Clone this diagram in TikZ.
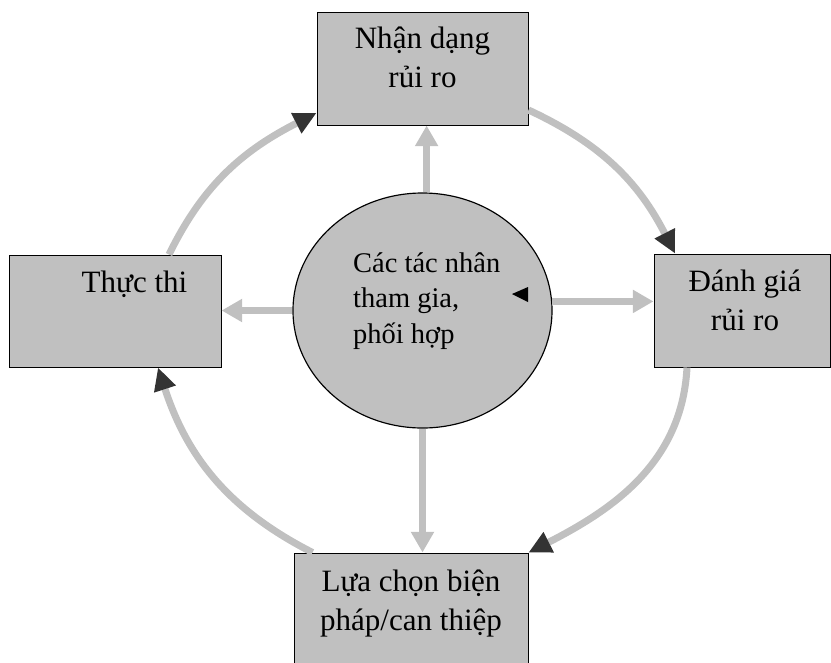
\documentclass[tikz,border=0pt]{standalone}
\usepackage{fontspec}
\setmainfont{Liberation Serif}
\usetikzlibrary{shapes.geometric,arrows.meta,calc,positioning}
\definecolor{boxgray}{HTML}{C0C0C0}
\definecolor{headgray}{HTML}{333333}
\tikzstyle{stage} = [rectangle, draw=black, line width=0.85pt, fill=boxgray]
\tikzstyle{hub} = [ellipse, draw=black, line width=1pt, fill=boxgray,
    minimum width=7.77cm, minimum height=7.05cm, inner sep=0pt]
\tikzstyle{stagetext} = [inner sep=0pt, align=center, font=\fontsize{26.5}{32.9}\selectfont]
\tikzstyle{hubtext} = [inner sep=0pt, align=left, font=\fontsize{24.3}{30.3}\selectfont]
\tikzstyle{spoke} = [draw=boxgray, line width=6pt, -{Triangle[width=0.66cm,length=0.62cm]}]
\tikzstyle{cycleline} = [draw=boxgray, line width=6pt,
    -{Triangle[width=0.64cm,length=0.68cm,color=headgray]}]

\begin{document}
\begin{tikzpicture}[x=0.03cm, y=0.03cm]
\useasboundingbox (0,0) rectangle (831,-662);
\clip (0,0) rectangle (831,-662);
%% Place boxes and hub
\node [stage, minimum width=6.33cm, minimum height=3.39cm] (nhandang) at (422.5,-68.5) {};
\node [stage, minimum width=5.28cm, minimum height=3.39cm] (danhgia) at (742,-310.5) {};
\node [stage, minimum width=6.33cm, minimum height=3.36cm] (thucthi) at (115.5,-311) {};
\node [stage, minimum width=6.99cm, minimum height=3.72cm] (luachon) at (411.5,-615) {};
\node [hub] (tacnhan) at (422.5,-310.5) {};

%% Texts (base = last line)
\node [stagetext, anchor=base] (nhandangtxt) at (422.5,-87) {Nhận dạng\\rủi ro};
\node [stagetext, anchor=base] (danhgiatxt) at (745,-330) {Đánh giá\\rủi ro};
\node [stagetext, anchor=base] (thucthitxt) at (134.5,-292) {Thực thi};
\node [stagetext, anchor=base] (luachontxt) at (411,-630) {Lựa chọn biện\\pháp/can thiệp};
\node [hubtext, anchor=base west] (tacnhantxt) at (353,-343) {Các tác nhân\\tham gia,\\phối hợp};

%% Stray tip inside the hub
\fill (512,-294) -- (528,-287) -- (528,-302) -- cycle;

%% Arrows from the hub
\draw [spoke] (tacnhan.88) -- (tacnhan.88 |- nhandang.south);
\draw [spoke] (tacnhan.4) -- (tacnhan.4 -| danhgia.west);
\draw [spoke] (tacnhan.south) -- (tacnhan.south |- luachon.north);
\draw [spoke] (tacnhan.west) -- (tacnhan.west -| thucthi.east);

%% Cycle round the boxes
\draw [cycleline] ($(thucthi.north)+(53.5,0)$) to [out=64, in=207] ($(nhandang.west)+(0,-44.5)$);
\draw [cycleline] ($(nhandang.east)+(0,-41.5)$) to [out=-25, in=117] ($(danhgia.north)+(-67,0)$);
\draw [cycleline] ($(danhgia.south)+(-55,0)$) to [out=-93, in=27] (luachon.north east);
\draw [cycleline] ($(luachon.north west)+(18,0)$) to [out=153, in=-72] ($(thucthi.south)+(42.5,0)$);
\end{tikzpicture}
\end{document}
